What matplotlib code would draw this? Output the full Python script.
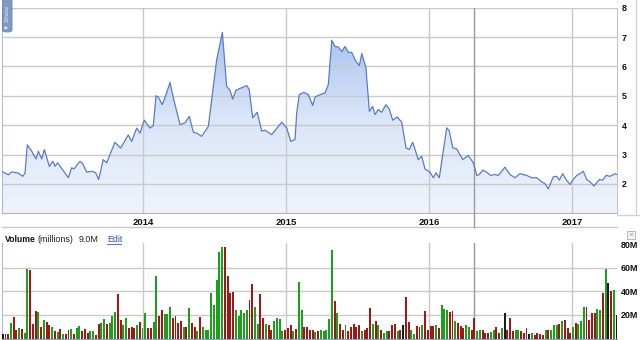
import numpy as np
import pandas as pd
import matplotlib
matplotlib.use("Agg")
import matplotlib.pyplot as plt
from matplotlib.colors import LinearSegmentedColormap
from matplotlib.patches import PathPatch, Rectangle, FancyBboxPatch
from matplotlib.lines import Line2D

plt.rcParams["font.family"] = ["Liberation Sans", "DejaVu Sans"]

# --- price (decimal year, close) ---
price_t = [2013.019, 2013.058, 2013.082, 2013.126, 2013.159, 2013.175, 2013.191, 2013.222, 2013.252, 2013.268,
           2013.292, 2013.310, 2013.345, 2013.369, 2013.385, 2013.403, 2013.478, 2013.501, 2013.517, 2013.559,
           2013.578, 2013.606, 2013.641, 2013.669, 2013.690, 2013.722, 2013.746, 2013.804, 2013.844, 2013.897,
           2013.921, 2013.956, 2013.979, 2014.009, 2014.049, 2014.072, 2014.091, 2014.107, 2014.135, 2014.161,
           2014.189, 2014.212, 2014.259, 2014.294, 2014.324, 2014.352, 2014.376, 2014.410, 2014.457, 2014.515,
           2014.555, 2014.585, 2014.608, 2014.627, 2014.650, 2014.725, 2014.743, 2014.767, 2014.799, 2014.830,
           2014.853, 2014.900, 2014.970, 2015.005, 2015.033, 2015.063, 2015.075, 2015.093, 2015.126, 2015.156,
           2015.187, 2015.203, 2015.238, 2015.273, 2015.296, 2015.320, 2015.343, 2015.366, 2015.390, 2015.413,
           2015.436, 2015.459, 2015.490, 2015.513, 2015.530, 2015.559, 2015.583, 2015.606, 2015.622, 2015.645,
           2015.669, 2015.699, 2015.722, 2015.746, 2015.778, 2015.809, 2015.839, 2015.862, 2015.886, 2015.925,
           2015.949, 2015.972, 2016.007, 2016.030, 2016.049, 2016.072, 2016.124, 2016.142, 2016.166, 2016.194,
           2016.236, 2016.275, 2016.310, 2016.334, 2016.352, 2016.376, 2016.403, 2016.431, 2016.462, 2016.485,
           2016.531, 2016.566, 2016.601, 2016.636, 2016.683, 2016.718, 2016.753, 2016.788, 2016.811, 2016.834,
           2016.869, 2016.893, 2016.911, 2016.935, 2016.958, 2016.986, 2017.009, 2017.033, 2017.056, 2017.079,
           2017.103, 2017.126, 2017.154, 2017.191, 2017.215, 2017.238, 2017.266, 2017.301, 2017.313]
price_v = [2.41, 2.31, 2.41, 2.37, 2.26, 2.37, 3.33, 3.11, 2.85, 3.11,
           2.85, 3.17, 2.60, 2.77, 2.60, 2.72, 2.21, 2.55, 2.51, 2.77,
           2.69, 2.40, 2.43, 2.38, 2.15, 2.83, 2.72, 3.42, 3.22, 3.67,
           3.45, 3.90, 3.73, 4.17, 3.90, 3.98, 5.00, 4.96, 4.70, 5.04,
           5.46, 4.93, 4.02, 4.08, 4.30, 3.76, 3.73, 3.62, 3.96, 6.22,
           7.16, 5.32, 5.19, 4.89, 5.19, 5.35, 5.21, 4.25, 4.44, 3.80,
           3.83, 3.68, 4.10, 3.91, 3.45, 3.51, 4.42, 5.04, 5.12, 5.04,
           4.67, 4.96, 5.04, 5.10, 5.38, 6.89, 6.68, 6.66, 6.51, 6.68,
           6.48, 6.48, 6.17, 6.03, 6.44, 5.95, 4.47, 4.64, 4.36, 4.53,
           4.44, 4.70, 4.55, 4.17, 4.28, 4.10, 3.23, 3.17, 3.42, 2.83,
           2.94, 2.51, 2.40, 2.21, 2.38, 2.21, 3.91, 3.80, 3.23, 3.19,
           2.83, 2.97, 2.72, 2.29, 2.32, 2.47, 2.40, 2.29, 2.32, 2.29,
           2.57, 2.32, 2.21, 2.35, 2.29, 2.21, 2.21, 2.07, 2.01, 1.83,
           2.24, 2.26, 2.13, 2.35, 2.15, 1.98, 2.15, 2.29, 2.35, 2.43,
           2.15, 2.07, 1.93, 2.15, 2.13, 2.29, 2.26, 2.35, 2.32]

# --- weekly volume (millions), colour: g up / r down / k unchanged ---
vol_start = "2013-01-08"
vol_m = [4, 4, 4, 13.4, 18, 7.2, 8.7, 8, 5, 59,
         58, 12, 23.4, 22.3, 9.5, 15.5, 13.8, 11.2, 9.5, 6.6,
         5.4, 8, 3.6, 4, 7.2, 8, 4, 8.7, 10.6, 6.3,
         8, 4.5, 6.3, 6.3, 3, 12.3, 12.9, 16.9, 12.3, 12.9,
         19.2, 22.3, 38, 15.8, 11.5, 17.2, 8.7, 9.5, 8.7, 11.5,
         14.3, 8.7, 21.4, 9, 9, 14.3, 53, 19,
         24.3, 20.8, 20.8, 26.4, 17.7, 19, 13.4, 14.7, 10, 10,
         25.7, 13.4, 9.5, 6.6, 18, 10, 7, 7.5, 38.5, 28.5,
         49.3, 73.7, 78, 78, 53, 38.5, 39.4, 24.3, 19, 24.3,
         22, 24.3, 32.8, 46.4, 26.4, 12.6, 37.4, 17.2, 12.6, 11.8,
         7, 14.7, 17.2, 16.6, 6.6, 7.5, 8.5, 11.2, 6.3, 8,
         48, 24.3, 9.5, 9.5, 7, 7.5, 5.4,
         6.6, 7.5, 6.3, 7.5, 16.2, 75, 32, 21.4, 12.6, 7,
         11.8, 6.3, 10, 12.6, 9.5, 11.2, 6.6, 7.5, 8.5, 25.7,
         12.6, 14.7, 11.8, 7.5, 5, 6.6, 6.6, 11.2, 12.6, 6.6,
         7.5, 11.8, 35.6, 14.2, 7.5, 3.6, 10.6, 9.5, 11.2, 23.4,
         7, 10.6, 10.6, 11.2, 8.5, 28.5, 24.8, 24.3, 22.8, 23.4,
         14.7, 13.4, 10.6, 8.5, 11.2, 10,
         7, 17.2, 6.3, 7.5, 7.5, 5, 4.5, 5.6, 7.5, 9.5,
         5, 8.5, 22, 7, 17.2, 6.6, 7, 7.5, 6.6, 4.5,
         8.5, 4, 4.5, 2.8, 4.5, 3.6, 3, 7, 7, 7.5,
         11.2, 11.2, 12, 14.7, 16, 9, 4.5, 9.5, 13.4, 12.6,
         14.7, 27, 27, 15.8, 22, 22, 24.8, 24.3, 38.5, 59,
         47.5, 40.4, 41.3, 20]
vol_dir = ("krrgrrgrgg" "rrrgrgrrgr" "grgrrgrggr" "rrggrrggrg" "ggrrggrrrg" "rggrrggr"
           "rgggrrrrgr" "grrgrggggg" "gggrrrrggg" "ggrrggrrgr" "rggggrrrgr" "ggrrrrg"
           "rgggggrgrr" "grrrrrgrrr" "grgrggrrrg" "rkrrggrrgr" "rrrgrgggrr" "grrrgg"
           "rrggrrrggr" "rgkrrrggrr" "rkgrrrrgrg" "ggrgrrrgrg" "ggrrrrggrg" "krgk")

years = [2014, 2015, 2016, 2017]
price_ticks = [2, 3, 4, 5, 6, 7, 8]
vol_ticks = [20, 40, 60, 80]
marker_t = 2016.315

bar_colors = {"g": "#1e9e1e", "r": "#a31616", "k": "#1c1c1c"}

vd = pd.date_range(vol_start, periods=len(vol_m), freq="7D")
vol_t = vd.year + (vd.dayofyear - 1) / 365.25

W, H = 640, 340
def box(x0, y0, x1, y1):
    return [x0 / W, 1 - y1 / H, (x1 - x0) / W, (y1 - y0) / H]

T0 = 2014 + (2 - 143) / 143
T1 = 2014 + (617 - 143) / 143

fig = plt.figure(figsize=(6.4, 3.4), dpi=100)
fig.patch.set_facecolor("white")

# price panel
ax = fig.add_axes(box(2, 7.7, 617, 213.3))
cmap = LinearSegmentedColormap.from_list("fill", ["#eff3fc", "#dbe6f8", "#a4c1ee"])
grad = np.linspace(0, 1, 256).reshape(-1, 1)
im = ax.imshow(grad, extent=[T0, T1, 1, 7.3], origin="lower", cmap=cmap,
               aspect="auto", zorder=0.5, interpolation="bilinear")
area = ax.fill_between(price_t, price_v, 1, color="none", lw=0)
clip = PathPatch(area.get_paths()[0], transform=ax.transData, fc="none", ec="none")
ax.add_patch(clip)
im.set_clip_path(clip)
ax.plot(price_t, price_v, color="#5a7cc8", lw=0.9, zorder=3)
ax.axvline(marker_t, color="#9a9a9a", lw=1, zorder=2)
ax.set_xlim(T0, T1)
ax.set_ylim(1, 8)
ax.set_xticks(years)
ax.set_xticklabels([str(y) for y in years], fontweight="bold", fontsize=6.8)
ax.set_yticks(price_ticks)
ax.set_yticklabels([str(v) for v in price_ticks], fontweight="bold", fontsize=6.4)
ax.yaxis.tick_right()
ax.tick_params(axis="x", length=0, pad=3.2, colors="#111111")
ax.tick_params(axis="y", length=0, pad=3.5, colors="#111111")
ax.grid(color="#c9c9c9", lw=1)
ax.spines["top"].set_visible(False)
ax.spines["left"].set_color("#a9bbdc")
ax.spines["right"].set_color("#c4c4c4")
ax.spines["bottom"].set_color("#b4b4b4")

# year band bottom line and outer frame bits
fig.add_artist(Line2D([2 / W, 617 / W], [1 - 226.5 / H] * 2, color="#c8c8c8", lw=1))
fig.add_artist(Line2D([474 / W] * 2, [1 - 226.5 / H, 1 - 213 / H], color="#9a9a9a", lw=1))
fig.add_artist(Line2D([636 / W] * 2, [1 - 215 / H, 1.0], color="#c8d2e4", lw=1))
fig.add_artist(Line2D([617 / W, 1.0], [1 - 215 / H] * 2, color="#c8d2e4", lw=1))

# show tab
fig.add_artist(FancyBboxPatch((2.5 / W, 1 - 32 / H), 9.5 / W, 34 / H,
                              boxstyle="round,pad=0,rounding_size=0.006",
                              fc="#8099c0", ec="#6c84ad", lw=0.6))
fig.text(7.3 / W, 1 - 30 / H, "\u25bc Show", rotation=90, ha="center", va="bottom",
         fontsize=4.6, color="#eef2fa")

# volume panel
vx = fig.add_axes(box(2, 243, 617, 338.5))
vx.bar(vol_t, vol_m, width=5.0 / 365.25, color=[bar_colors[c] for c in vol_dir],
       lw=0, zorder=3)
vx.axvline(marker_t, color="#9a9a9a", lw=1, zorder=2)
vx.set_xlim(T0, T1)
vx.set_ylim(0, 81.1)
vx.set_xticks(years)
vx.set_xticklabels([])
vx.set_yticks(vol_ticks)
vx.set_yticklabels([f"{v}M" for v in vol_ticks], fontweight="bold", fontsize=6.4)
vx.yaxis.tick_right()
vx.tick_params(length=0, pad=2.5, colors="#111111")
vx.grid(color="#c9c9c9", lw=1)
vx.get_ygridlines()[-1].set_visible(False)
vx.spines["top"].set_visible(False)
vx.spines["right"].set_visible(False)
vx.spines["left"].set_color("#a9bbdc")
vx.spines["bottom"].set_color("#8ea6d2")

# volume header
hy = 1 - 239.3 / H
fig.text(5 / W, hy, "Volume", fontsize=6.2, fontweight="bold", va="center", color="#111111")
fig.text(38 / W, hy, "(millions)", fontsize=6.4, va="center", color="#222222")
fig.text(79 / W, hy, "9.0M", fontsize=6.4, va="center", color="#222222")
fig.text(107 / W, hy, "Edit", fontsize=6.4, va="center", color="#2a56b8")
fig.add_artist(Line2D([107 / W, 121 / W], [1 - 243.5 / H] * 2, color="#2a56b8", lw=0.6))

# close box
fig.add_artist(Rectangle((627 / W, 1 - 239 / H), 8 / W, 8 / H, fc="#f4f4f4", ec="#b0b0b0", lw=0.6))
fig.text(631 / W, 1 - 235 / H, "\u00d7", fontsize=6, ha="center", va="center", color="#999999")

fig.savefig("out.png", dpi=100)
